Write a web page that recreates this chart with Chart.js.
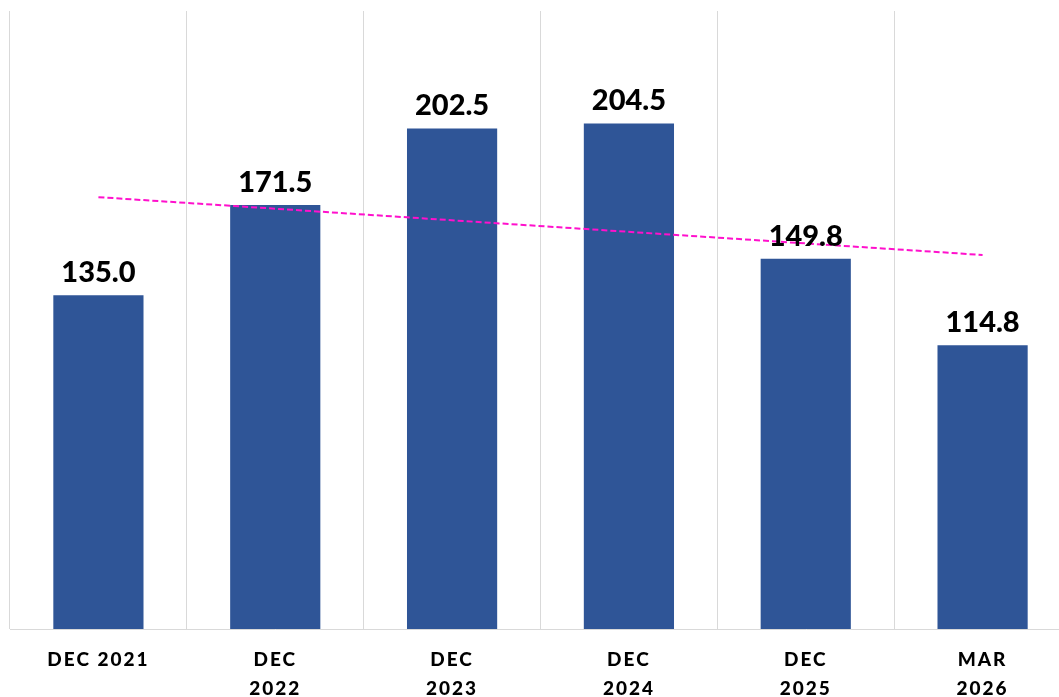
<!DOCTYPE html>
<html><head><meta charset="utf-8">
<script src="https://cdn.jsdelivr.net/npm/chart.js@4"></script>
<style>html,body{margin:0;padding:0;background:#fff;overflow:hidden;width:1059px;height:697px}
#wrap{width:1080px;height:697px;position:relative}</style>
</head><body><div id="wrap"><canvas id="c"></canvas></div>
<script>
const categories = [["DEC 2021"], ["DEC","2022"], ["DEC","2023"], ["DEC","2024"], ["DEC","2025"], ["MAR","2026"]];
const values = [135.0, 171.5, 202.5, 204.5, 149.8, 114.8];
const valueLabels = ["135.0", "171.5", "202.5", "204.5", "149.8", "114.8"];
const trend = [174.7, null, null, null, null, 151.3];

const spacingPlugin = {
  id: 'spacing',
  beforeUpdate(chart) { chart.ctx.letterSpacing = '2px'; },
  beforeDraw(chart) { chart.ctx.letterSpacing = '2px'; }
};

const labelPlugin = {
  id: 'vlabels',
  afterDatasetsDraw(chart) {
    const ctx = chart.ctx;
    const meta = chart.getDatasetMeta(1);
    ctx.save();
    ctx.letterSpacing = '0px';
    ctx.font = '900 29px Lato, "Open Sans", sans-serif';
    ctx.fillStyle = '#000';
    ctx.textAlign = 'center';
    ctx.textBaseline = 'alphabetic';
    meta.data.forEach((bar, i) => {
      ctx.fillText(valueLabels[i], bar.x, bar.y - 13);
    });
    ctx.restore();
  }
};

const canvas = document.getElementById('c');

new Chart(canvas, {
  data: {
    labels: categories,
    datasets: [
      { type: 'line', data: trend, spanGaps: true, borderColor: '#ff10cc', borderWidth: 2,
        borderDash: [6, 3], pointRadius: 0, fill: false, order: 0 },
      { type: 'bar', data: values, backgroundColor: '#2f5597', borderWidth: 0,
        categoryPercentage: 1, barPercentage: 0.51, order: 1 }
    ]
  },
  options: {
    responsive: true, maintainAspectRatio: false, animation: false,
    layout: { padding: { left: 10, right: 9, top: 11, bottom: 0 } },
    plugins: { legend: { display: false }, tooltip: { enabled: false } },
    scales: {
      x: {
        offset: true,
        grid: { offset: true, color: '#d9d9d9', lineWidth: 1, drawTicks: false },
        border: { color: '#d9d9d9', width: 1 },
        ticks: { color: '#000', font: { family: 'Lato, "Open Sans", sans-serif', size: 19, weight: '900', lineHeight: 1.5 },
                 padding: 17, maxRotation: 0, autoSkip: false },
        afterFit(s) { s.height = 68; }
      },
      y: { display: false, min: 0, max: 250 }
    }
  },
  plugins: [spacingPlugin, labelPlugin]
});
</script></body></html>
